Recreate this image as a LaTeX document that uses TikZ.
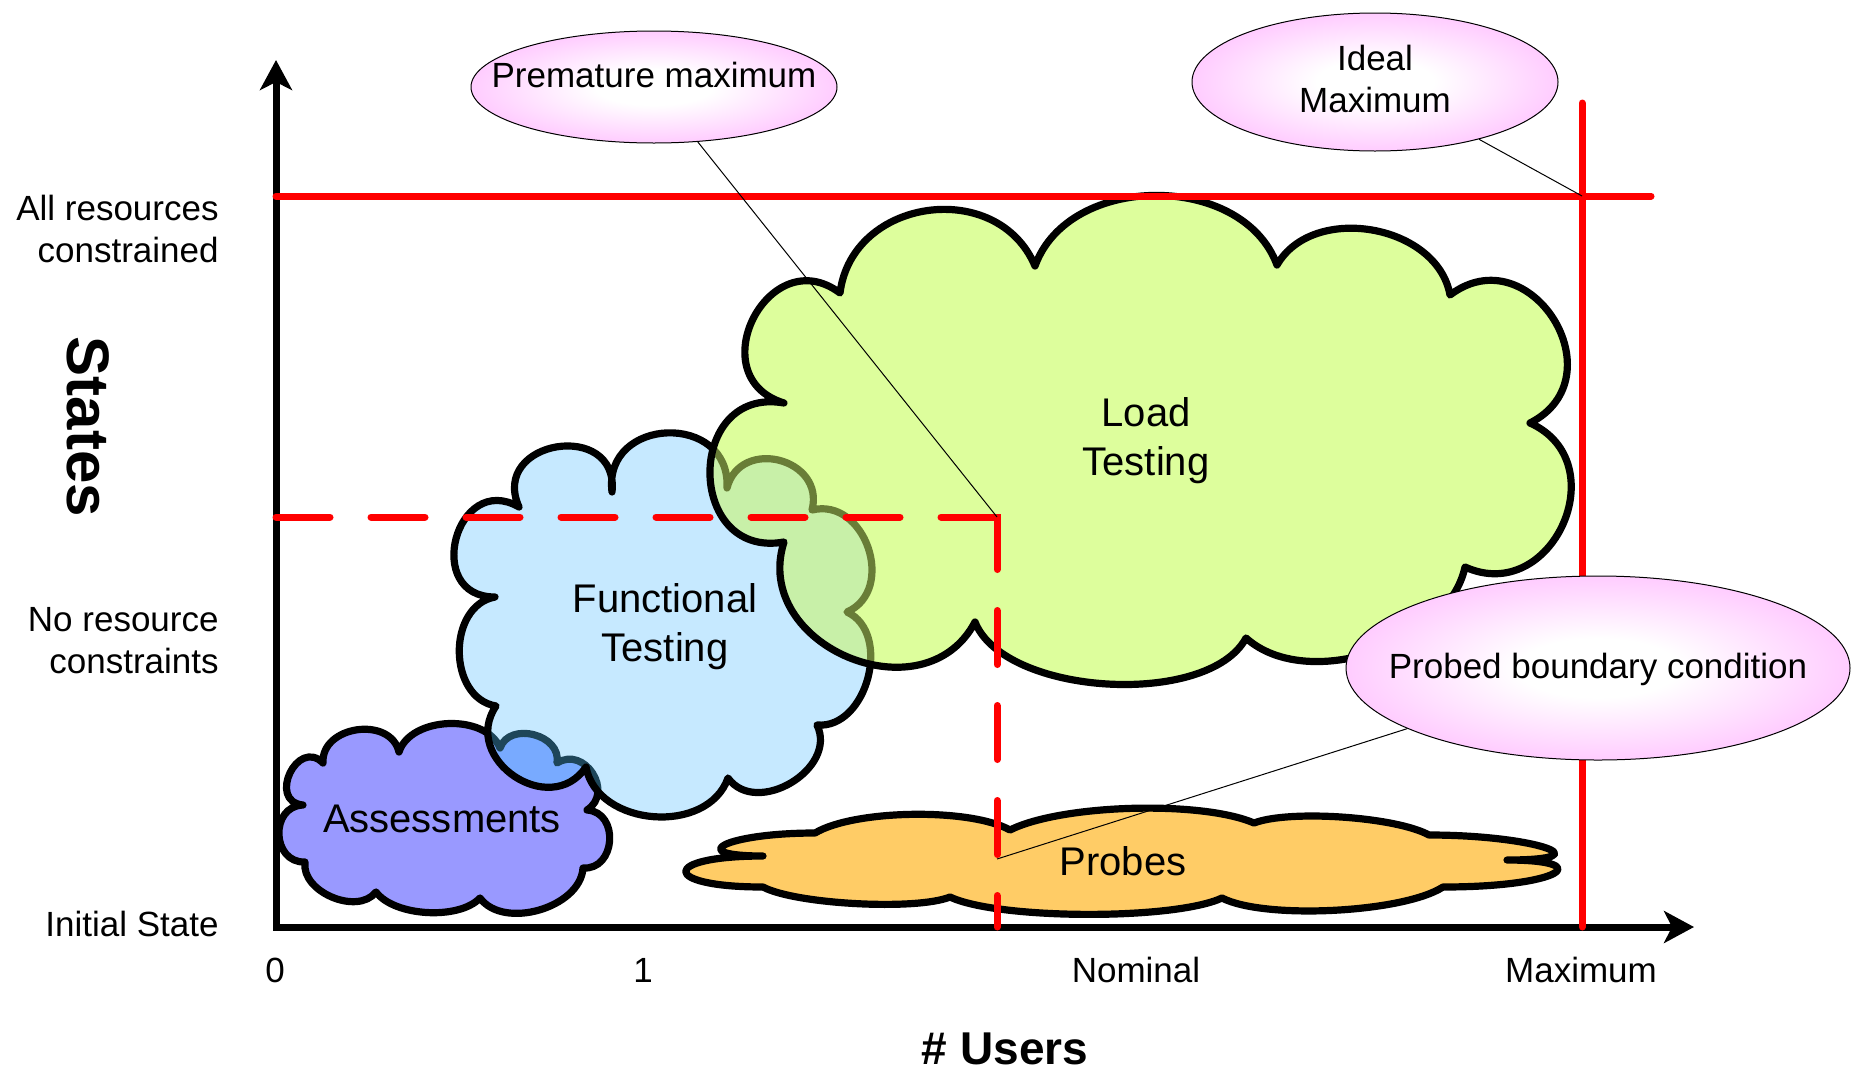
\documentclass[tikz,border=0pt]{standalone}
\usepackage{fontspec}
\setmainfont{Liberation Sans}
\usetikzlibrary{arrows.meta,shapes.geometric}

\definecolor{loadgreen}{RGB}{221,254,156}
\definecolor{funcblue}{RGB}{198,233,255}
\definecolor{assessviolet}{RGB}{153,153,255}
\definecolor{probeorange}{RGB}{255,204,102}
\definecolor{bubblepink}{RGB}{255,153,255}
\definecolor{mixfl}{RGB}{200,240,168}
\definecolor{edgefl}{RGB}{105,125,55}
\definecolor{mixaf}{RGB}{120,170,255}
\definecolor{edgeaf}{RGB}{30,70,90}

\pgfdeclareradialshading{bubbleglow}{\pgfpoint{0bp}{0bp}}{%
  color(0bp)=(white); color(8bp)=(white); color(42bp)=(bubblepink); color(50bp)=(bubblepink)}

\tikzset{axishead/.tip={Stealth[length=15pt,width=16pt,inset=4pt]}}

% Cloud outlines, traced clockwise so that "bend left" puffs outward
\def\assesspath{(303,-805) to[bend left=110,looseness=2] (323,-763)
  to[bend left=85,looseness=1.25] (399,-752)
  to[bend left=70,looseness=0.95] (500,-748)
  to[bend left=85,looseness=1.25] (557,-763)
  to[bend left=90,looseness=1.5] (587,-810)
  to[bend left=90,looseness=1.45] (583,-868)
  to[bend left=70,looseness=0.95] (480,-898)
  to[bend left=50,looseness=0.75] (376,-892)
  to[bend left=75,looseness=1] (305,-862)
  to[bend left=90,looseness=1.5] (303,-805) -- cycle}

\def\funcpath{(495,-597) to[bend left=105,looseness=2] (519,-507)
  to[bend left=105,looseness=2] (612,-492)
  to[bend left=95,looseness=1.7] (727,-488)
  to[bend left=90,looseness=1.55] (812,-510)
  to[bend left=85,looseness=1.3] (847,-612)
  to[bend left=80,looseness=1.1] (817,-725)
  to[bend left=85,looseness=1.2] (728,-778)
  to[bend left=75,looseness=1.1] (586,-767)
  to[bend left=90,looseness=1.5] (496,-706)
  to[bend left=80,looseness=1.15] (495,-597) -- cycle}

\def\loadpath{(784,-403) to[bend left=100,looseness=1.85] (840,-293)
  to[bend left=75,looseness=1.25] (1035,-266)
  to[bend left=70,looseness=1.05] (1277,-265)
  to[bend left=70,looseness=1.05] (1450,-295)
  to[bend left=95,looseness=1.7] (1530,-423)
  to[bend left=90,looseness=1.55] (1465,-567)
  to[bend left=60,looseness=0.9] (1246,-638)
  to[bend left=65,looseness=0.75] (975,-622)
  to[bend left=85,looseness=1.35] (784,-542)
  to[bend left=100,looseness=1.85] (784,-403) -- cycle}

\def\probepath{(763,-856) .. controls +(-80,0) and +(-90,0) .. (815,-833)
  to[bend left=30,looseness=0.6] (1010,-830)
  to[bend left=25,looseness=0.6] (1254,-823)
  to[bend left=25,looseness=0.55] (1429,-835)
  .. controls +(105,0) and +(100,0) .. (1507,-860)
  .. controls +(90,0) and +(120,0) .. (1443,-887)
  to[bend left=30,looseness=0.55] (1222,-898)
  to[bend left=25,looseness=0.5] (950,-897)
  to[bend left=25,looseness=0.5] (763,-887)
  .. controls +(-103,0) and +(-103,0) .. (763,-856) -- cycle}

\begin{document}
\begin{tikzpicture}[x=0.5pt,y=0.5pt,
  cloudline/.style={line width=3.6pt,line join=round},
  axisline/.style={line width=3.5pt,line join=miter},
  redline/.style={red,line width=3.5pt,line cap=round},
  bubble/.style={ellipse,draw=black,line width=0.5pt,shading=bubbleglow,inner sep=0pt},
  leader/.style={black,line width=0.5pt},
  lbl/.style={font=\fontsize{17.5pt}{21pt}\selectfont,inner sep=0pt},
  cloudlbl/.style={font=\fontsize{20pt}{24.5pt}\selectfont,align=center,inner sep=0pt},
  axistitle/.style={font=\fontsize{23pt}{28pt}\selectfont\bfseries,inner sep=0pt}]
\useasboundingbox (0,0) rectangle (1862,-1071);
\fill[white] (0,0) rectangle (1862,-1071);

% Assessments
\filldraw[cloudline,fill=assessviolet] \assesspath;

% Functional testing, with the assessments cloud showing through it
\fill[funcblue] \funcpath;
\begin{scope}
  \clip \funcpath;
  \fill[mixaf] \assesspath;
  \draw[cloudline,edgeaf] \assesspath;
\end{scope}
\draw[cloudline] \funcpath;

% Load testing, with the functional cloud showing through it
\fill[loadgreen] \loadpath;
\begin{scope}
  \clip \loadpath;
  \fill[mixfl] \funcpath;
  \draw[cloudline,edgefl] \funcpath;
\end{scope}
\draw[cloudline] \loadpath;

% Probes
\filldraw[cloudline,fill=probeorange] \probepath;

% Cloud labels (multi-line nodes sit on the baseline of their last line)
\node[cloudlbl,anchor=base] (assesslbl) at (442,-832) {Assessments};
\node[cloudlbl,anchor=base] (funclbl) at (665,-661) {Functional\\Testing};
\node[cloudlbl,anchor=base] (loadlbl) at (1146,-475) {Load\\Testing};
\node[cloudlbl,anchor=base] (probelbl) at (1123,-875) {Probes};

% Axes
\coordinate (origin) at (276,-927);
\coordinate (ytip) at (276,-60);
\coordinate (xtip) at (1694,-927);
\draw[axisline,axishead-axishead] (ytip) -- (origin) -- (xtip);

% Boundary lines
\coordinate (allresL) at (276,-196);
\coordinate (allresR) at (1651,-196);
\coordinate (maxtop) at (1582,-103);
\coordinate (maxbottom) at (1582,-927);
\coordinate (cross) at (1582,-196);
\coordinate (noresL) at (276,-517);
\coordinate (knee) at (997,-517);
\coordinate (nominalbottom) at (997,-927);
\coordinate (probept) at (997,-859);
\draw[redline] (allresL) -- (allresR);
\draw[redline] (maxtop) -- (maxbottom);
\draw[redline,line join=miter,
  dash pattern=on 27pt off 20.5pt on 27pt off 20.5pt on 27pt off 20.5pt on 27pt off 20.5pt
  on 27pt off 20.5pt on 27pt off 20.5pt on 27pt off 20.5pt on 54.25pt off 20.5pt
  on 27pt off 20.5pt on 27pt off 20.5pt on 27pt off 20.5pt on 27pt off 20.5pt]
  (noresL) -- (knee) -- (nominalbottom);

% Callouts
\node[bubble,minimum width=183pt,minimum height=56pt] (premax) at (654,-87) {};
\node[lbl,anchor=base] (premaxtext) at (654,-87) {Premature maximum};
\node[bubble,minimum width=183pt,minimum height=69pt] (idealmax) at (1375,-82) {};
\node[lbl,align=center,anchor=base] (idealtext) at (1375,-112) {Ideal\\Maximum};
\node[bubble,minimum width=252pt,minimum height=92pt] (probed) at (1598,-668) {};
\node[lbl,anchor=base] (probedtext) at (1598,-678) {Probed boundary condition};
\draw[leader] (premax) -- (knee);
\draw[leader] (idealmax) -- (cross);
\draw[leader] (probed) -- (probept);

% Axis state labels
\node[lbl,align=right,anchor=base east] (allres) at (219,-262) {All resources\\constrained};
\node[lbl,align=right,anchor=base east] (nores) at (219,-673) {No resource\\constraints};
\node[lbl,anchor=base east] (initial) at (219,-936) {Initial State};
\node[axistitle,font=\fontsize{30pt}{36pt}\selectfont\bfseries,rotate=-90,anchor=base] (states) at (67,-427) {States};

% User count labels
\node[lbl,anchor=base] (zero) at (275,-982) {0};
\node[lbl,anchor=base] (one) at (643,-982) {1};
\node[lbl,anchor=base] (nominal) at (1136,-982) {Nominal};
\node[lbl,anchor=base] (maximum) at (1581,-982) {Maximum};
\node[axistitle,anchor=base] (users) at (1005,-1064) {\# Users};
\end{tikzpicture}
\end{document}
